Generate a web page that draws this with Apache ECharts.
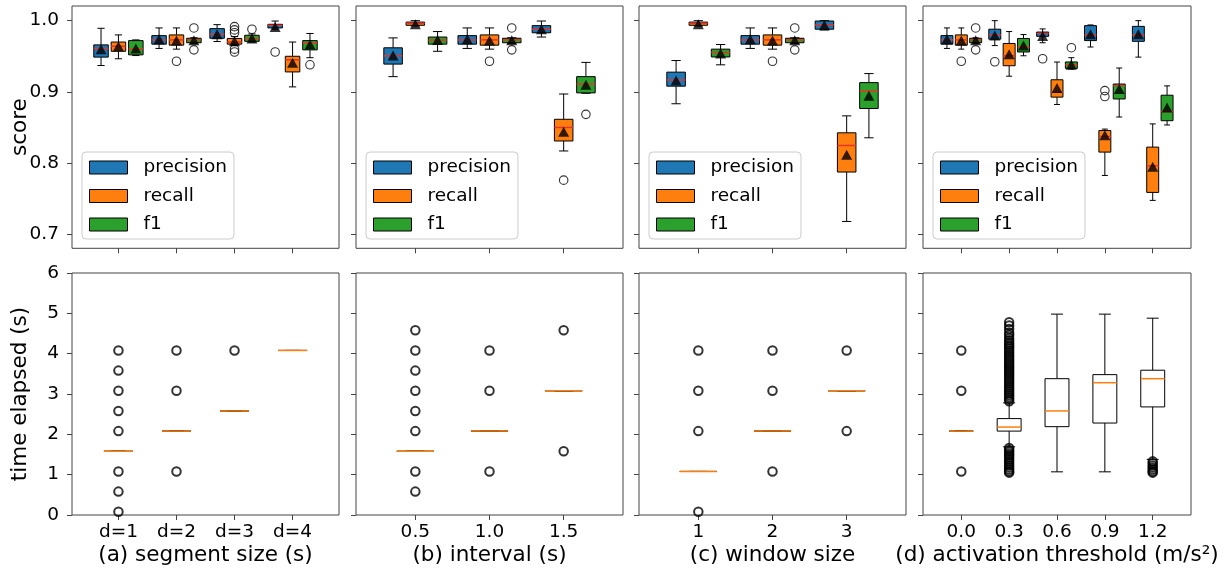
<!DOCTYPE html>
<html><head><meta charset="utf-8">
<script src="https://cdn.jsdelivr.net/npm/echarts@6/dist/echarts.min.js"></script>
<style>html,body{margin:0;padding:0;background:#fff}#c{width:1226px;height:573px}</style>
</head><body><div id="c"></div>
<script>
// ---------- categories / tick labels ----------
const catsA = ['d=1', 'd=2', 'd=3', 'd=4'];
const catsB = ['0.5', '1.0', '1.5'];
const catsC = ['1', '2', '3'];
const catsD = ['0.0', '0.3', '0.6', '0.9', '1.2'];
const scoreTicks = [0.7, 0.8, 0.9, 1.0];
const metricNames = ['precision', 'recall', 'f1'];
const xNames = ['(a) segment size (s)', '(b) interval (s)', '(c) window size', '(d) activation threshold (m/s²)'];

// ---------- score boxes: [whiskerLow, q1, median, q3, whiskerHigh] ----------
const aPrecision = [[0.937, 0.9488, 0.961, 0.966, 0.9893], [0.961, 0.967, 0.973, 0.979, 0.9898], [0.9707, 0.9753, 0.981, 0.9888, 0.9944], [0.988, 0.9898, 0.9935, 0.9949, 0.9995]];
const aRecall = [[0.9465, 0.957, 0.964, 0.970, 0.980], [0.960, 0.9656, 0.973, 0.980, 0.9898], [0.965, 0.967, 0.970, 0.975, 0.9777], [0.907, 0.928, 0.945, 0.950, 0.970]];
const aF1 = [[0.951, 0.952, 0.960, 0.972, 0.973], [0.968, 0.969, 0.973, 0.9753, 0.976], [0.970, 0.971, 0.975, 0.9795, 0.9814], [0.948, 0.959, 0.969, 0.972, 0.982]];
const aPrecisionMean = [0.960, 0.974, 0.981, 0.991];
const aRecallMean = [0.964, 0.972, 0.971, 0.941];
const aF1Mean = [0.961, 0.9725, 0.975, 0.9665];
const aPrecisionFliers = [[], [], [], [0.956]];
const aRecallFliers = [[], [0.943], [0.9916, 0.987, 0.983, 0.960, 0.956], []];
const aF1Fliers = [[], [0.9898, 0.959], [0.988], [0.938]];

const bPrecision = [[0.9214, 0.939, 0.9507, 0.9619, 0.9758], [0.961, 0.967, 0.973, 0.979, 0.9898], [0.977, 0.983, 0.988, 0.993, 0.9995]];
const bRecall = [[0.9926, 0.9935, 0.9963, 0.998, 1.0], [0.960, 0.9656, 0.973, 0.980, 0.9898], [0.817, 0.831, 0.850, 0.8615, 0.897]];
const bF1 = [[0.957, 0.967, 0.9726, 0.977, 0.9847], [0.968, 0.969, 0.973, 0.9753, 0.976], [0.898, 0.8986, 0.911, 0.9214, 0.9414]];
const bPrecisionMean = [0.951, 0.974, 0.988];
const bRecallMean = [0.995, 0.972, 0.844];
const bF1Mean = [0.973, 0.9725, 0.910];
const bPrecisionFliers = [[], [], []];
const bRecallFliers = [[], [0.943], [0.776]];
const bF1Fliers = [[], [0.9898, 0.959], [0.8684]];

const cPrecision = [[0.8833, 0.908, 0.9167, 0.9277, 0.944], [0.961, 0.967, 0.973, 0.979, 0.9898], [0.987, 0.988, 0.994, 0.9995, 1.0]];
const cRecall = [[0.9926, 0.9935, 0.9963, 0.998, 1.0], [0.960, 0.9656, 0.973, 0.980, 0.9898], [0.718, 0.7874, 0.8247, 0.8425, 0.8663]];
const cF1 = [[0.938, 0.949, 0.9553, 0.960, 0.9665], [0.968, 0.969, 0.973, 0.9753, 0.976], [0.8355, 0.8766, 0.9014, 0.913, 0.9257]];
const cPrecisionMean = [0.916, 0.974, 0.9935];
const cRecallMean = [0.995, 0.972, 0.8117];
const cF1Mean = [0.954, 0.9725, 0.8944];
const cPrecisionFliers = [[], [], []];
const cRecallFliers = [[], [0.943], []];
const cF1Fliers = [[], [0.9898, 0.959], []];

const dPrecision = [[0.961, 0.967, 0.973, 0.979, 0.9898], [0.965, 0.974, 0.980, 0.988, 1.0], [0.969, 0.978, 0.982, 0.984, 0.9884], [0.963, 0.972, 0.980, 0.993, 0.994], [0.9488, 0.971, 0.980, 0.992, 1.0]];
const dRecall = [[0.960, 0.9656, 0.973, 0.980, 0.9898], [0.922, 0.9367, 0.9507, 0.968, 0.9847], [0.8823, 0.8926, 0.8995, 0.917, 0.9419], [0.7826, 0.8154, 0.8373, 0.8457, 0.8477], [0.7476, 0.7588, 0.7962, 0.8224, 0.855]];
const dF1 = [[0.968, 0.969, 0.973, 0.9753, 0.976], [0.9507, 0.956, 0.963, 0.975, 0.9805], [0.932, 0.933, 0.938, 0.942, 0.948], [0.8647, 0.890, 0.9088, 0.911, 0.9335], [0.8535, 0.8595, 0.8724, 0.8953, 0.9084]];
const dPrecisionMean = [0.974, 0.979, 0.9786, 0.981, 0.981];
const dRecallMean = [0.972, 0.953, 0.9056, 0.839, 0.795];
const dF1Mean = [0.9725, 0.965, 0.938, 0.904, 0.878];
const dPrecisionFliers = [[], [0.9423], [0.9465], [], []];
const dRecallFliers = [[0.943], [], [], [0.9018, 0.8934], []];
const dF1Fliers = [[0.9898, 0.959], [], [0.962], [], []];

// ---------- time elapsed boxes: [whiskerLow, q1, median, q3, whiskerHigh] ----------
const aTime = [[1.58, 1.58, 1.58, 1.58, 1.58], [2.08, 2.08, 2.08, 2.08, 2.08], [2.58, 2.58, 2.58, 2.58, 2.58], [4.08, 4.08, 4.08, 4.08, 4.08]];
const aTimeFliers = [[4.08, 3.58, 3.08, 2.58, 2.08, 1.08, 0.58, 0.08], [4.08, 3.08, 1.08], [4.08], []];
const bTime = [[1.58, 1.58, 1.58, 1.58, 1.58], [2.08, 2.08, 2.08, 2.08, 2.08], [3.08, 3.08, 3.08, 3.08, 3.08]];
const bTimeFliers = [[4.58, 4.08, 3.58, 3.08, 2.58, 2.08, 1.08, 0.58], [4.08, 3.08, 1.08], [4.58, 1.58]];
const cTime = [[1.08, 1.08, 1.08, 1.08, 1.08], [2.08, 2.08, 2.08, 2.08, 2.08], [3.08, 3.08, 3.08, 3.08, 3.08]];
const cTimeFliers = [[4.08, 3.08, 2.08, 0.08], [4.08, 3.08, 1.08], [4.08, 2.08]];
const dTime = [[2.08, 2.08, 2.08, 2.08, 2.08], [1.69, 2.08, 2.18, 2.39, 2.78], [1.07, 2.19, 2.58, 3.38, 4.98], [1.07, 2.28, 3.28, 3.48, 4.98], [1.38, 2.68, 3.38, 3.59, 4.88]];
const dTimeFliers = [
  [4.08, 3.08, 1.08],
  [2.82, 2.87, 2.92, 2.97, 3.02, 3.07, 3.12, 3.17, 3.22, 3.27, 3.32, 3.37, 3.42, 3.47, 3.52, 3.57, 3.62, 3.67, 3.72, 3.77, 3.82, 3.87, 3.92, 3.97, 4.02, 4.07, 4.12, 4.17, 4.22, 4.27, 4.33, 4.39, 4.46, 4.52, 4.61, 4.70, 4.78,
   1.66, 1.61, 1.57, 1.52, 1.48, 1.43, 1.38, 1.33, 1.28, 1.23, 1.18, 1.13, 1.08, 1.05],
  [], [],
  [1.33, 1.28, 1.23, 1.18, 1.13, 1.08, 1.05]
];

// ---------- build ----------
const panels = [
  {cats: catsA, boxes: [aPrecision, aRecall, aF1], means: [aPrecisionMean, aRecallMean, aF1Mean], fliers: [aPrecisionFliers, aRecallFliers, aF1Fliers], time: aTime, timeFliers: aTimeFliers},
  {cats: catsB, boxes: [bPrecision, bRecall, bF1], means: [bPrecisionMean, bRecallMean, bF1Mean], fliers: [bPrecisionFliers, bRecallFliers, bF1Fliers], time: bTime, timeFliers: bTimeFliers},
  {cats: catsC, boxes: [cPrecision, cRecall, cF1], means: [cPrecisionMean, cRecallMean, cF1Mean], fliers: [cPrecisionFliers, cRecallFliers, cF1Fliers], time: cTime, timeFliers: cTimeFliers},
  {cats: catsD, boxes: [dPrecision, dRecall, dF1], means: [dPrecisionMean, dRecallMean, dF1Mean], fliers: [dPrecisionFliers, dRecallFliers, dF1Fliers], time: dTime, timeFliers: dTimeFliers}
];

const FONT = 'DejaVu Sans';
const TICK_FS = 18.5, LABEL_FS = 21.5, LEGEND_FS = 18.5;
const colors = ['#1f77b4', '#ff7f0e', '#2ca02c'];
const offsets = [-0.3, 0, 0.3];
const colLeft = [72, 356, 639, 923];
const colWidth = [267, 267, 267, 268];
const AX = '#444';

function boxRender(fill, medColor, widthUnits) {
  return function (params, api) {
    const x = api.value(0);
    const pLo = api.coord([x, api.value(1)]);
    const pQ1 = api.coord([x, api.value(2)]);
    const pMed = api.coord([x, api.value(3)]);
    const pQ3 = api.coord([x, api.value(4)]);
    const pHi = api.coord([x, api.value(5)]);
    const w = api.size([widthUnits, 0])[0];
    const cx = pMed[0], half = w / 2, cap = w / 4;
    const ls = {stroke: '#000', lineWidth: 1};
    return {type: 'group', children: [
      {type: 'line', shape: {x1: cx, y1: pQ1[1], x2: cx, y2: pLo[1]}, style: ls},
      {type: 'line', shape: {x1: cx, y1: pQ3[1], x2: cx, y2: pHi[1]}, style: ls},
      {type: 'line', shape: {x1: cx - cap, y1: pLo[1], x2: cx + cap, y2: pLo[1]}, style: ls},
      {type: 'line', shape: {x1: cx - cap, y1: pHi[1], x2: cx + cap, y2: pHi[1]}, style: ls},
      {type: 'rect', shape: {x: cx - half, y: pQ3[1], width: w, height: pQ1[1] - pQ3[1]}, style: {fill: fill, stroke: '#000', lineWidth: 1}},
      {type: 'line', shape: {x1: cx - half, y1: pMed[1], x2: cx + half, y2: pMed[1]}, style: {stroke: medColor, lineWidth: 1.5}}
    ]};
  };
}

const gridsTop = [], gridsBottom = [], xAxes = [], yAxes = [], series = [], legends = [];
panels.forEach((p, pi) => {
  const n = p.cats.length;
  const ticks = p.cats.map((c, i) => i + 1);
  gridsTop.push({left: colLeft[pi], top: 6, width: colWidth[pi], height: 242.3, show: true, borderColor: AX, borderWidth: 1, backgroundColor: '#fff'});
  gridsBottom.push({left: colLeft[pi], top: 273, width: colWidth[pi], height: 242, show: true, borderColor: AX, borderWidth: 1, backgroundColor: '#fff'});
  [0, 1].forEach(row => {
    const gi = pi + row * 4;
    xAxes[gi] = {
      type: 'value', gridIndex: gi, min: 0.2, max: n + 0.8,
      splitLine: {show: false}, axisLine: {show: false},
      axisTick: {show: true, length: 5, lineStyle: {color: AX}, customValues: ticks},
      axisLabel: {show: row === 1, customValues: ticks, margin: 8, fontFamily: FONT, fontSize: TICK_FS, color: '#000',
        formatter: v => p.cats[Math.round(v) - 1]},
      name: row === 1 ? xNames[pi] : '', nameLocation: 'middle', nameGap: 29,
      nameTextStyle: {fontFamily: FONT, fontSize: LABEL_FS, color: '#000'}
    };
    yAxes[gi] = row === 0 ? {
      type: 'value', gridIndex: gi, min: 0.6803, max: 1.0206,
      splitLine: {show: false}, axisLine: {show: false},
      axisTick: {show: true, length: 5, lineStyle: {color: AX}, customValues: scoreTicks},
      axisLabel: {show: pi === 0, customValues: scoreTicks, margin: 13, fontFamily: FONT, fontSize: TICK_FS, color: '#000', formatter: v => v.toFixed(1)},
      name: pi === 0 ? 'score' : '', nameLocation: 'middle', nameGap: 41, nameMoveOverlap: false,
      nameTextStyle: {fontFamily: FONT, fontSize: LABEL_FS, color: '#000'}
    } : {
      type: 'value', gridIndex: gi, min: 0, max: 6, interval: 1,
      splitLine: {show: false}, axisLine: {show: false},
      axisTick: {show: true, length: 5, lineStyle: {color: AX}},
      axisLabel: {show: pi === 0, margin: 13, fontFamily: FONT, fontSize: TICK_FS, color: '#000'},
      name: pi === 0 ? 'time elapsed (s)' : '', nameLocation: 'middle', nameGap: 41, nameMoveOverlap: false,
      nameTextStyle: {fontFamily: FONT, fontSize: LABEL_FS, color: '#000'}
    };
  });

  // top row: grouped score boxes
  metricNames.forEach((m, mi) => {
    const boxData = p.boxes[mi].map((b, i) => [i + 1 + offsets[mi]].concat(b));
    series.push({
      type: 'custom', name: m, xAxisIndex: pi, yAxisIndex: pi, z: 2,
      itemStyle: {color: colors[mi]},
      renderItem: boxRender(colors[mi], '#e3342a', 0.25),
      encode: {x: 0, y: [1, 2, 3, 4, 5]}, data: boxData, silent: true
    });
    const fl = [];
    p.fliers[mi].forEach((arr, i) => arr.forEach(v => fl.push([i + 1 + offsets[mi], v])));
    series.push({
      type: 'scatter', name: m + ' outliers', xAxisIndex: pi, yAxisIndex: pi, z: 3,
      symbol: 'circle', symbolSize: 8.5, data: fl, silent: true,
      itemStyle: {color: 'rgba(0,0,0,0)', borderColor: '#000', borderWidth: 1.1}
    });
    series.push({
      type: 'scatter', name: m + ' mean', xAxisIndex: pi, yAxisIndex: pi, z: 4,
      symbol: 'triangle', symbolSize: [11, 10], silent: true,
      data: p.means[mi].map((v, i) => [i + 1 + offsets[mi], v]),
      itemStyle: {color: '#000'}
    });
  });

  // bottom row: time boxes
  series.push({
    type: 'custom', name: 'time', xAxisIndex: pi + 4, yAxisIndex: pi + 4, z: 2,
    renderItem: boxRender('#fff', '#ff7f0e', 0.5),
    encode: {x: 0, y: [1, 2, 3, 4, 5]}, silent: true,
    data: p.time.map((b, i) => [i + 1].concat(b))
  });
  const tf = [];
  p.timeFliers.forEach((arr, i) => arr.forEach(v => tf.push([i + 1, v])));
  series.push({
    type: 'scatter', name: 'time outliers', xAxisIndex: pi + 4, yAxisIndex: pi + 4, z: 3,
    symbol: 'circle', symbolSize: 8.5, data: tf, silent: true,
    itemStyle: {color: 'rgba(0,0,0,0)', borderColor: '#000', borderWidth: 2}
  });

  legends.push({
    left: colLeft[pi] + 10, top: 152, orient: 'vertical',
    itemWidth: 38, itemHeight: 13, itemGap: 9.5,
    padding: [6, 7, 5, 7],
    backgroundColor: 'rgba(255,255,255,0.8)', borderColor: '#cccccc', borderWidth: 1, borderRadius: 4,
    selectedMode: false,
    textStyle: {fontFamily: FONT, fontSize: LEGEND_FS, color: '#000', padding: [0, 0, 0, 11], width: 84, overflow: 'none'},
    data: metricNames.map((m, mi) => ({name: m, icon: 'rect', itemStyle: {color: colors[mi], borderColor: '#000', borderWidth: 1}}))
  });
});

const chart = echarts.init(document.getElementById('c'), null, {renderer: 'canvas'});
chart.setOption({
  animation: false,
  backgroundColor: '#fff',
  grid: gridsTop.concat(gridsBottom),
  xAxis: xAxes,
  yAxis: yAxes,
  legend: legends,
  series: series
});
</script></body></html>
